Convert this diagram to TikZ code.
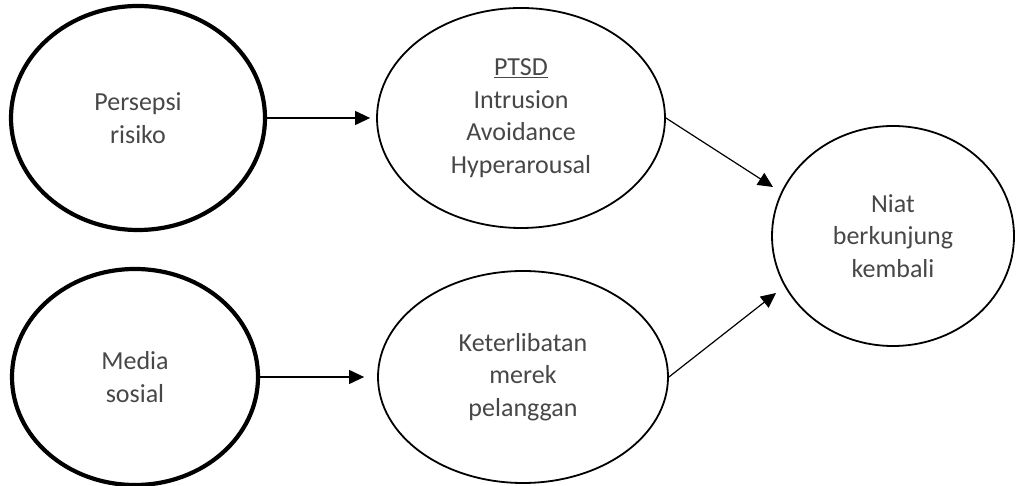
\documentclass[tikz,border=0pt]{standalone}
\usepackage{fontspec}
\setmainfont{Carlito}
\usetikzlibrary{shapes.geometric,arrows.meta}
\begin{document}
\begin{tikzpicture}[x=1pt,y=1pt,
  txt/.style={font=\fontsize{26}{32.5}\selectfont, text=black!72, align=center},
  thickell/.style={ellipse, draw, line width=4.2pt, inner sep=0pt, txt},
  thinell/.style={ellipse, draw, line width=1.8pt, inner sep=0pt, txt},
  conn/.style={line width=1.2pt, -{Triangle[length=15pt,width=14pt]}}]
\useasboundingbox (0,0) rectangle (1016,486);
\node[thickell, minimum width=254pt, minimum height=224pt] (risk) at (138,368) {\raisebox{-3pt}{Persepsi}\\\raisebox{-3pt}{risiko}};
\node[thinell, minimum width=288pt, minimum height=220pt] (ptsd) at (521,368) {\underline{PTSD}\\Intrusion\\Avoidance\\Hyperarousal};
\node[thinell, minimum width=242pt, minimum height=220pt] (niat) at (893,250) {Niat\\berkunjung\\kembali};
\node[thickell, minimum width=246pt, minimum height=216pt] (media) at (135,109) {\raisebox{-3pt}{Media}\\\raisebox{-3pt}{sosial}};
\node[thinell, minimum width=290pt, minimum height=212pt] (ket) at (523,109) {Keterlibatan\\merek\\pelanggan};
\coordinate (t1) at (773,299);
\coordinate (t2) at (776,193);
\draw[conn, shorten >=6pt] (risk.east) -- (ptsd.west);
\draw[conn, shorten >=13pt] (media.east) -- (ket.west);
\draw[conn] (ptsd.east) -- (t1);
\draw[conn] (ket.east) -- (t2);
\end{tikzpicture}
\end{document}
